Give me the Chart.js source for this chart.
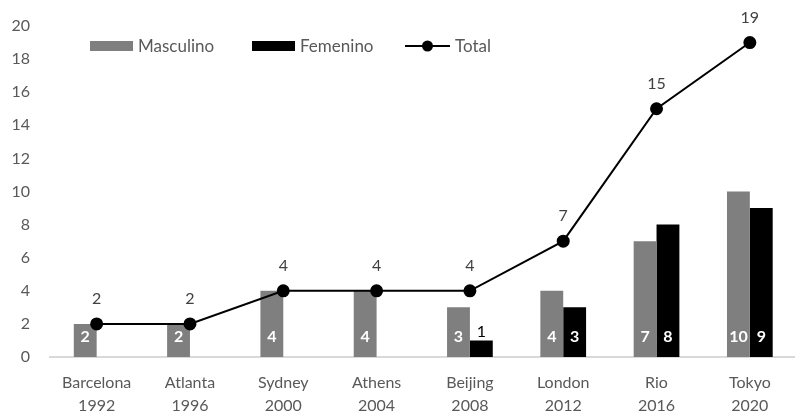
<!DOCTYPE html>
<html>
<head>
<meta charset="utf-8">
<script src="https://cdn.jsdelivr.net/npm/chart.js@4/dist/chart.umd.min.js"></script>
<style>
  html, body { margin: 0; padding: 0; background: #fff; overflow: hidden; }
  #wrap { width: 804px; height: 416px; }
</style>
</head>
<body>
<div id="wrap"><canvas id="c" width="804" height="416"></canvas></div>
<script>
const categories = [["Barcelona","1992"],["Atlanta","1996"],["Sydney","2000"],["Athens","2004"],["Beijing","2008"],["London","2012"],["Rio","2016"],["Tokyo","2020"]];
const masculino = [2, 2, 4, 4, 3, 4, 7, 10];
const femenino = [0, 0, 0, 0, 1, 3, 8, 9];
const total = [2, 2, 4, 4, 4, 7, 15, 19];
const yTicks = { min: 0, max: 20, step: 2 };

const FONT = "Lato, 'Open Sans', sans-serif";
const TEXT = '#595959';

const labelPlugin = {
  id: 'valueLabels',
  afterDatasetsDraw(chart) {
    const ctx = chart.ctx;
    const zeroY = chart.scales.y.getPixelForValue(0);
    ctx.save();
    ctx.textAlign = 'center';
    ctx.textBaseline = 'middle';
    chart.data.datasets.forEach((ds, i) => {
      const meta = chart.getDatasetMeta(i);
      meta.data.forEach((el, j) => {
        const v = ds.data[j];
        if (!v) return;
        if (ds.type === 'line') {
          ctx.font = "16px " + FONT;
          ctx.fillStyle = '#404040';
          ctx.fillText(String(v), el.x, el.y - 25);
        } else if (v >= 2) {
          ctx.font = "bold 16px " + FONT;
          ctx.fillStyle = '#ffffff';
          ctx.fillText(String(v), el.x, zeroY - 20);
        } else {
          ctx.font = "16px " + FONT;
          ctx.fillStyle = '#000000';
          ctx.fillText(String(v), el.x, el.y - 9);
        }
      });
    });
    ctx.restore();
  }
};

const legendPlugin = {
  id: 'insideLegend',
  afterDraw(chart) {
    const ctx = chart.ctx;
    const ds = chart.data.datasets;
    const starts = [90, 252, 405];
    const cy = 46;
    ctx.save();
    ctx.font = "17px " + FONT;
    ctx.textBaseline = 'middle';
    ctx.textAlign = 'left';
    ds.forEach((d, i) => {
      const x = starts[i];
      if (d.type === 'line') {
        ctx.strokeStyle = d.borderColor;
        ctx.lineWidth = 2;
        ctx.beginPath();
        ctx.moveTo(x, cy);
        ctx.lineTo(x + 45, cy);
        ctx.stroke();
        ctx.fillStyle = d.pointBackgroundColor;
        ctx.beginPath();
        ctx.arc(x + 22.5, cy, 5.5, 0, Math.PI * 2);
        ctx.fill();
        ctx.fillStyle = TEXT;
        ctx.fillText(d.label, x + 50, cy + 1);
      } else {
        ctx.fillStyle = d.backgroundColor;
        ctx.fillRect(x, cy - 5, 43, 10);
        ctx.fillStyle = TEXT;
        ctx.fillText(d.label, x + 48, cy + 1);
      }
    });
    ctx.restore();
  }
};

new Chart(document.getElementById('c'), {
  data: {
    labels: categories,
    datasets: [
      { type: 'bar', label: 'Masculino', data: masculino, backgroundColor: '#7f7f7f', order: 2,
        categoryPercentage: 0.49, barPercentage: 1.0 },
      { type: 'bar', label: 'Femenino', data: femenino, backgroundColor: '#000000', order: 2,
        categoryPercentage: 0.49, barPercentage: 1.0 },
      { type: 'line', label: 'Total', data: total, borderColor: '#000000', borderWidth: 2,
        pointBackgroundColor: '#000000', pointBorderColor: '#000000', pointRadius: 5.5,
        tension: 0, order: 0, clip: false }
    ]
  },
  options: {
    responsive: false,
    animation: false,
    devicePixelRatio: 1,
    layout: { padding: { top: 26, right: 0, left: 0, bottom: 0 } },
    plugins: { legend: { display: false }, tooltip: { enabled: false } },
    scales: {
      x: {
        grid: { display: false, drawTicks: false },
        border: { display: true, color: '#d9d9d9', width: 2 },
        ticks: { color: TEXT, font: { family: FONT, size: 16, lineHeight: 1.4 }, padding: 15, maxRotation: 0, autoSkip: false },
        afterFit(s) { s.height = 59; s.paddingLeft = 0; s.paddingRight = 0; }
      },
      y: {
        min: yTicks.min, max: yTicks.max,
        grid: { display: false, drawTicks: false },
        border: { display: false },
        ticks: { stepSize: yTicks.step, color: TEXT, font: { family: FONT, size: 16 }, padding: 20 },
        afterFit(s) { s.width = 50; s.paddingTop = 0; s.paddingBottom = 0; }
      }
    }
  },
  plugins: [labelPlugin, legendPlugin]
});
</script>
</body>
</html>
